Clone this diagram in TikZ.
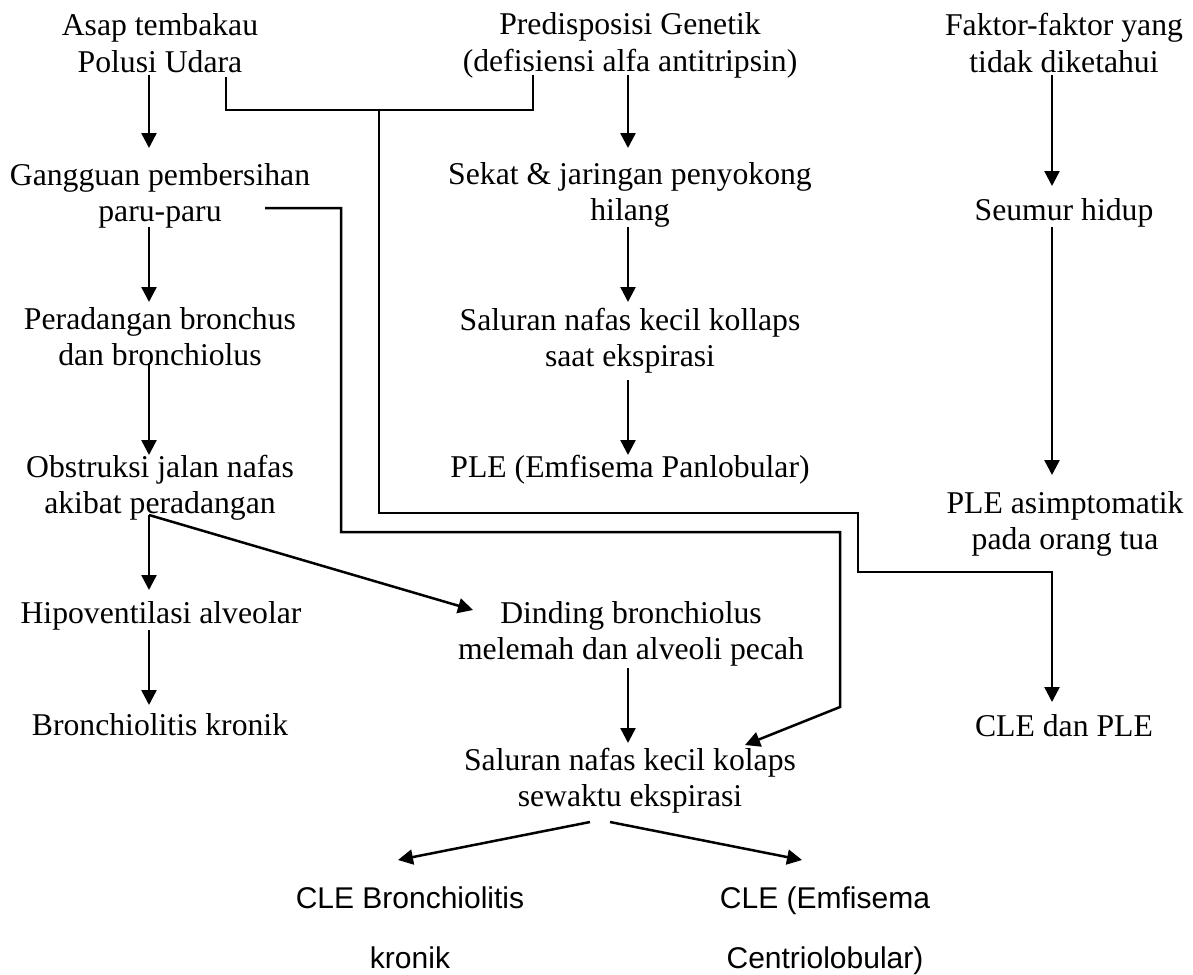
\documentclass[tikz,border=0pt]{standalone}
\usepackage{fontspec}
\setmainfont{Liberation Serif}
\newfontfamily\comicf{Liberation Sans}
\usetikzlibrary{arrows.meta}
\newcommand{\twoline}[2]{\vtop{\baselineskip=36pt\lineskiplimit=-100pt\halign{\hfil##\hfil\cr#1\cr#2\cr}}}
\newcommand{\twolinewide}[2]{\vtop{\baselineskip=60pt\lineskiplimit=-100pt\halign{\hfil##\hfil\cr#1\cr#2\cr}}}
\begin{document}
\begin{tikzpicture}[x=1pt,y=-1pt,
  txt/.style={inner sep=0pt, anchor=base, font=\fontsize{31.7pt}{36pt}\selectfont},
  cmc/.style={inner sep=0pt, anchor=base, font=\comicf\fontsize{30pt}{60pt}\selectfont},
  ln/.style={line width=2.5pt},
  arr/.style={line width=2.5pt, -{Triangle[length=15pt,width=15pt]}}]
\useasboundingbox[fill=white] (0,0) rectangle (1193,974);

% ---- text nodes (placed at first baseline) ----
\node[txt] (asap)    at (160,36)  {\twoline{Asap tembakau}{Polusi Udara}};
\node[txt] (pred)    at (630,35)  {\twoline{Predisposisi Genetik}{(defisiensi alfa antitripsin)}};
\node[txt] (faktor)  at (1064,36) {\twoline{Faktor-faktor yang}{tidak diketahui}};
\node[txt] (gang)    at (160,185) {\twoline{Gangguan pembersihan}{paru-paru}};
\node[txt] (sekat)   at (630,184) {\twoline{Sekat \& jaringan penyokong}{hilang}};
\node[txt] (seumur)  at (1064,220) {Seumur hidup};
\node[txt] (perad)   at (160,329) {\twoline{Peradangan bronchus}{dan bronchiolus}};
\node[txt] (salA)    at (630,330) {\twoline{Saluran nafas kecil kollaps}{saat ekspirasi}};
\node[txt] (obs)     at (160,477) {\twoline{Obstruksi jalan nafas}{akibat peradangan}};
\node[txt] (pleA)    at (630,477) {PLE (Emfisema Panlobular)};
\node[txt] (pleasim) at (1065,513) {\twoline{PLE asimptomatik}{pada orang tua}};
\node[txt] (hipo)    at (161,623) {Hipoventilasi alveolar};
\node[txt] (dind)    at (631,623) {\twoline{Dinding bronchiolus}{melemah dan alveoli pecah}};
\node[txt] (bronk)   at (160,735) {Bronchiolitis kronik};
\node[txt] (cledan)  at (1064,736) {CLE dan PLE};
\node[txt] (salB)    at (630,770) {\twoline{Saluran nafas kecil kolaps}{sewaktu ekspirasi}};
\node[cmc] (cleb)    at (410,908) {\twolinewide{CLE Bronchiolitis}{kronik}};
\node[cmc] (clec)    at (825,908) {\twolinewide{CLE (Emfisema}{Centriolobular)}};

% ---- connector points ----
\coordinate (a1s) at (149,75);  \coordinate (a1e) at (149,148);
\coordinate (a2s) at (149,227); \coordinate (a2e) at (149,302);
\coordinate (a3s) at (149,363); \coordinate (a3e) at (149,455);
\coordinate (a4s) at (149,515); \coordinate (a4e) at (149,590);
\coordinate (a5s) at (149,630); \coordinate (a5e) at (149,705);
\coordinate (dge) at (473,610);
\coordinate (b1s) at (628,75);  \coordinate (b1e) at (628,148);
\coordinate (b2s) at (628,227); \coordinate (b2e) at (628,302);
\coordinate (b3s) at (628,380); \coordinate (b3e) at (628,455);
\coordinate (b4s) at (628,668); \coordinate (b4e) at (628,743);
\coordinate (c1s) at (1052,75);  \coordinate (c1e) at (1052,186);
\coordinate (c2s) at (1052,227); \coordinate (c2e) at (1052,475);
\coordinate (c3e) at (1052,702);
% joining bracket
\coordinate (jl) at (226,77);  \coordinate (jr) at (533,75);
\coordinate (jm) at (379,110);
% loop from Gangguan
\coordinate (gs) at (265,208);
\coordinate (ge) at (745,745);
% bottom split
\coordinate (sl) at (590,822); \coordinate (sle) at (398,860);
\coordinate (sr) at (610,822); \coordinate (sre) at (802,860);

% ---- connectors ----
\draw[arr] (a1s) -- (a1e);
\draw[arr] (a2s) -- (a2e);
\draw[arr] (a3s) -- (a3e);
\draw[arr] (a4s) -- (a4e);
\draw[arr] (a5s) -- (a5e);
\draw[arr] (a4s) -- (dge);
\draw[arr] (b1s) -- (b1e);
\draw[arr] (b2s) -- (b2e);
\draw[arr] (b3s) -- (b3e);
\draw[arr] (b4s) -- (b4e);
\draw[arr] (c1s) -- (c1e);
\draw[arr] (c2s) -- (c2e);
\draw[ln] (jl) |- (jm) -| (jr);
\draw[arr] (jm) |- (858,513) |- (c3e |- 0,572) -- (c3e);
\draw[arr] (gs) -| (341,532) -| (840,707) -- (ge);
\draw[arr] (sl) -- (sle);
\draw[arr] (sr) -- (sre);
\end{tikzpicture}
\end{document}
